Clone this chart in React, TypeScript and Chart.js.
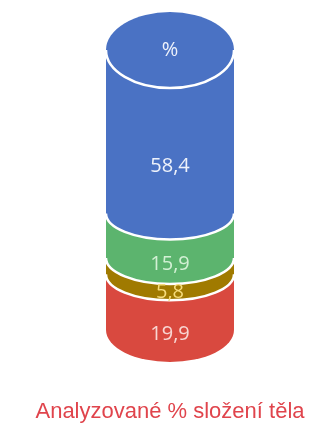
import React, { useEffect, useRef } from "react";
import { Chart, registerables } from "chart.js";

Chart.register(...registerables);

// ---- data ----
const categories = ["%"];
const seriesNames = ["Tuk", "Minerály", "Bílkoviny", "Voda"];
const fatValues = [19.9];
const mineralValues = [5.8];
const proteinValues = [15.9];
const waterValues = [58.4];
const seriesColors = ["#d9493f", "#a07a00", "#5cb46e", "#4a72c4"];
const labelColors = ["#f8d6d2", "#f6dc7c", "#d2f0d4", "#eef2fb"];
const titleText = "Analyzované % složení těla";

const CAP_RY = 38;
const RY = 26;
const BOTTOM_RY = 32;

const fmt = (v: number) => v.toFixed(1).replace(".", ",");

const cylinderPlugin = {
  id: "cylinder",
  beforeDatasetsDraw(chart: any) {
    const ctx = chart.ctx as CanvasRenderingContext2D;
    const n = chart.data.datasets.length;
    const bars: any[] = [];
    for (let i = 0; i < n; i++) bars.push(chart.getDatasetMeta(i).data[0]);
    ctx.save();
    // fills, bottom segment first
    for (let i = 0; i < n; i++) {
      const el = bars[i];
      const cx = el.x;
      const rx = el.width / 2;
      const left = cx - rx;
      const right = cx + rx;
      const yTop = Math.min(el.y, el.base);
      const yBot = Math.max(el.y, el.base);
      const ry = i === 0 ? BOTTOM_RY : RY;
      ctx.beginPath();
      ctx.moveTo(left, yTop);
      ctx.lineTo(left, yBot);
      ctx.ellipse(cx, yBot, rx, ry, 0, Math.PI, 0, true);
      ctx.lineTo(right, yTop);
      ctx.closePath();
      ctx.fillStyle = chart.data.datasets[i].backgroundColor;
      ctx.fill();
    }
    // boundary lines
    ctx.strokeStyle = "#ffffff";
    ctx.lineWidth = 2.5;
    for (let i = 1; i < n; i++) {
      const el = bars[i];
      const yBot = Math.max(el.y, el.base);
      ctx.beginPath();
      ctx.ellipse(el.x, yBot, el.width / 2, RY, 0, Math.PI, 0, true);
      ctx.stroke();
    }
    // top cap
    const top = bars[n - 1];
    const capY = Math.min(top.y, top.base);
    ctx.beginPath();
    ctx.ellipse(top.x, capY, top.width / 2, CAP_RY, 0, 0, Math.PI * 2);
    ctx.fillStyle = chart.data.datasets[n - 1].backgroundColor;
    ctx.fill();
    ctx.beginPath();
    ctx.ellipse(top.x, capY, top.width / 2, CAP_RY, 0, Math.PI, 0, true);
    ctx.stroke();
    // labels: centred in each segment's visible front face
    ctx.textAlign = "center";
    ctx.textBaseline = "middle";
    ctx.font = "20px 'Open Sans', 'Noto Sans', sans-serif";
    for (let i = 0; i < n; i++) {
      const el = bars[i];
      const yTop = Math.min(el.y, el.base);
      const yBot = Math.max(el.y, el.base);
      const ryBot = i === 0 ? BOTTOM_RY : RY;
      const ryTop = i === n - 1 ? CAP_RY : RY;
      const v = chart.data.datasets[i].data[0];
      const offset = yBot - yTop > 30 ? 3 : 0;
      ctx.fillStyle = labelColors[i];
      ctx.fillText(fmt(v), el.x, (yTop + ryTop + yBot + ryBot) / 2 + offset);
    }
    ctx.fillStyle = labelColors[n - 1];
    ctx.fillText(chart.data.labels[0], top.x, capY);
    ctx.restore();
    return false;
  },
};

export default function App() {
  const ref = useRef<HTMLCanvasElement>(null);
  useEffect(() => {
    if (!ref.current) return;
    const values = [fatValues, mineralValues, proteinValues, waterValues];
    const chart = new Chart(ref.current, {
      type: "bar",
      data: {
        labels: categories,
        datasets: values.map((d, i) => ({
          label: seriesNames[i],
          data: d,
          backgroundColor: seriesColors[i],
          categoryPercentage: 1,
          barPercentage: 128 / 330,
        })),
      },
      options: {
        animation: false,
        responsive: true,
        maintainAspectRatio: false,
        layout: { padding: { top: 50, left: 5, right: 0, bottom: 0 } },
        scales: {
          x: { stacked: true, display: false },
          y: { stacked: true, display: false, min: 0, max: 100 },
        },
        plugins: {
          legend: { display: false },
          tooltip: { enabled: false },
          title: {
            display: true,
            position: "bottom",
            text: titleText,
            color: "#e0444c",
            font: { family: "'Liberation Sans', Arial, sans-serif", size: 22, weight: "normal" },
            padding: { top: 69, bottom: 8.6 },
          },
        },
      },
      plugins: [cylinderPlugin],
    } as any);
    return () => chart.destroy();
  }, []);
  return (
    <div style={{ position: "absolute", left: 0, top: 0, width: 335, height: 434, background: "#fff" }}>
      <canvas ref={ref} />
    </div>
  );
}
